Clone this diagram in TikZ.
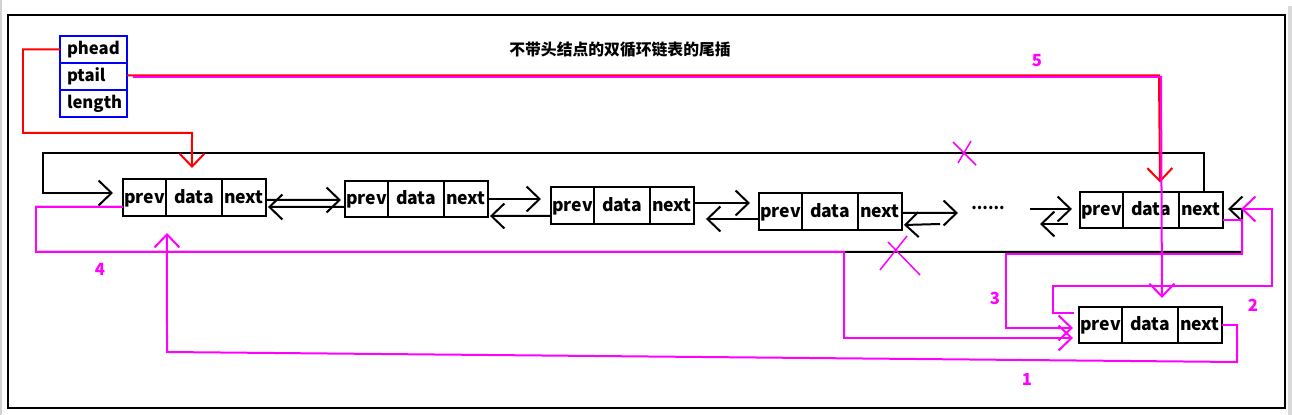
\documentclass[tikz,border=0pt]{standalone}
\usepackage{fontspec}
\setmainfont{Noto Sans CJK SC}
\usepackage{xcolor}
\usepackage{tikz}
\usetikzlibrary{positioning,arrows.meta,calc}
\definecolor{lkRed}{HTML}{FF0000}
\definecolor{lkPink}{HTML}{FF00FF}
\definecolor{lkBlue}{HTML}{0000FF}
\tikzset{
  cell/.style={draw, line width=0.04cm, minimum height=0.74cm, inner sep=0pt, outer sep=0pt, text height=1.55ex, text depth=0.35ex, font=\fontsize{10}{12}\selectfont\bfseries},
  hbox/.style={draw=lkBlue, line width=0.04cm, minimum height=0.54cm, text width=1.06cm, inner xsep=0.14cm, inner ysep=0pt, outer sep=0pt, align=left, font=\fontsize{9.5}{11}\selectfont\bfseries},
  barb/.style={-{Straight Barb[length=2.6mm,width=5mm]}},
  blk/.style={barb, line width=0.04cm},
  pink/.style={barb, draw=lkPink, line width=0.04cm},
  redarr/.style={barb, draw=lkRed, line width=0.04cm},
  xmark/.style={draw=lkPink, line width=0.03cm},
  steplbl/.style={text=lkPink, font=\fontsize{9.5}{11}\selectfont\bfseries}
}
% one list element: x of left edge, y of centre, name
\newcommand{\dlnode}[3]{%
 \node[cell, minimum width=0.86cm, anchor=west] (#3p) at (#1,#2) {prev};%
 \node[cell, minimum width=1.12cm, right=0pt of #3p] (#3d) {data};%
 \node[cell, minimum width=0.88cm, right=0pt of #3d] (#3n) {next};}

\begin{document}
\begin{tikzpicture}[x=0.02cm, y=-0.02cm]
\useasboundingbox (0,0) rectangle (1292,415);
\fill[gray!35] (0,0) rectangle (2,415);
\fill[gray!30] (1288,6) rectangle (1292,415);
\draw[line width=0.05cm] (8,15) rectangle (1285,408);

\node[font=\fontsize{9}{11}\selectfont\bfseries] (title) at (620,50) {不带头结点的双循环链表的尾插};

% head structure
\node[hbox] (phead) at (93.5,49.5) {phead};
\node[hbox, below=0pt of phead] (ptail) {ptail};
\node[hbox, below=0pt of ptail] (plen) {length};

% list
\dlnode{123}{197.5}{a}
\dlnode{345}{199}{b}
\dlnode{551}{205.5}{c}
\dlnode{759}{211.5}{d}
\dlnode{1080}{210}{e}
\dlnode{1079}{325}{s}
\node[font=\fontsize{9}{11}\selectfont\bfseries] (dots) at (988,208) {......};

% links between neighbours
\draw[blk] ($(an.east)+(0,2.5)$) -- ($(bp.west)+(-4,1)$);
\draw[blk] ($(bp.west)+(0,8)$) -- ($(an.east)+(2,9.5)$);
\draw[blk] (bn.east) -- ($(cp.west)+(-10,-6.5)$);
\draw[blk] ($(cp.west)+(0,10.5)$) -- ($(bn.east)+(2,17)$);
\draw[blk] ($(cn.east)+(0,-2.5)$) -- ($(dp.west)+(-9,-8.5)$);
\draw[blk] ($(dp.west)+(0,7.5)$) -- ($(cn.east)+(12,13.5)$);
\draw[blk] ($(dn.east)+(0,1.5)$) -- ($(dots.center)+(-30,5)$);
\draw[blk] ($(dots.center)+(-48,16)$) -- ($(dn.east)+(2,13.5)$);
\draw[blk] ($(dots.center)+(42,1)$) -- ($(ep.west)+(-8,-1)$);
\draw[blk] ($(ep.west)+(-12,14)$) -- ($(dots.center)+(52,16)$);

% old circular links
\draw[blk] ($(en.north)+(3,0)$) |- (43,153) |- ($(ap.west)+(-10,-4.5)$);
\draw[blk] ($(ap.west)+(0,9.5)$) -- (36,207) -- (36,252) -- (1242,252) -- (1242,209) -- ($(en.east)+(5,-1)$);

% pointers of the head
\draw[redarr] (phead.west) -- (23,49.5) -- (23,133) -- (192,133) -- ($(ad.north)+(-2,-11)$);
\draw[redarr] ($(ptail.east)+(0,-1)$) -- (1159,75.5) -- ($(ed.north)+(9,-9)$);

% tail insertion steps
\draw[pink] (sn.east) -- (1237,325) -- (1237,362) -- (167,352) -- ($(ap.south east)+(1,17)$);
\draw[pink] ($(sp.west)+(-5,-12)$) -- (1053,313) -- (1053,286) -- (1272,286) -- (1272,209) -- ($(en.east)+(18,-1)$);
\draw[pink] ($(en.east)+(0,10)$) -- (1242,220) -- (1242,254) -- (1006,254) -- (1006,328) -- ($(sp.west)+(-6,3)$);
\draw[pink] ($(ap.west)+(0,9.5)$) -- (36,207) -- (36,252) -- (844,252) -- (844,338) -- ($(sp.west)+(-6,13)$);
\draw[pink] ($(ptail.east)+(6,0.5)$) -- (1161,77) -- ($(sd.north)+(12,-8.5)$);

% broken links
\draw[xmark] (953,142) -- (976,165) (971,141) -- (958,163);
\draw[xmark] (880,270) -- (907,236) (888,242) -- (920,275);

\node[steplbl] (l1) at (1027,379) {1};
\node[steplbl] (l2) at (1253,305) {2};
\node[steplbl] (l3) at (995,298) {3};
\node[steplbl] (l4) at (100,269) {4};
\node[steplbl] (l5) at (1037,61) {5};
\end{tikzpicture}
\end{document}
